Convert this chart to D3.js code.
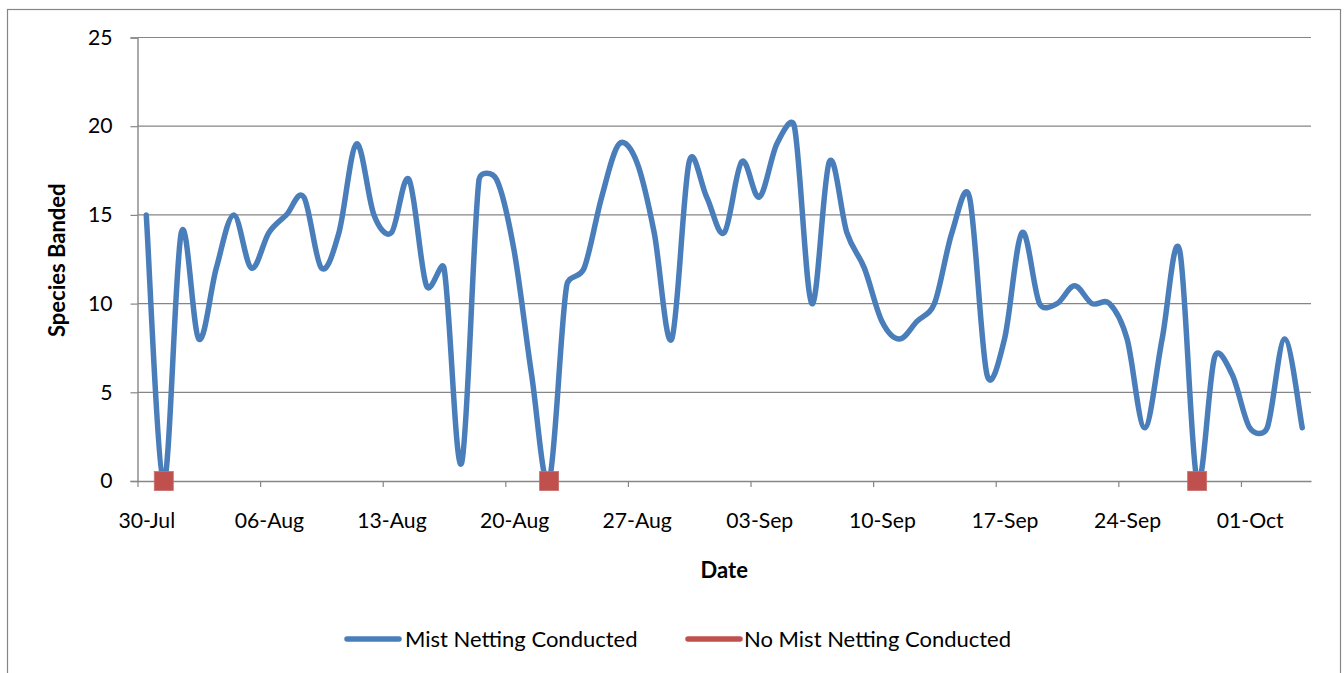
<!DOCTYPE html>
<html>
<head>
<meta charset="utf-8">
<script src="https://cdn.jsdelivr.net/npm/d3@7"></script>
<style>
  html, body { margin: 0; padding: 0; background: #fff; }
  svg { display: block; font-family: Lato, "Open Sans", sans-serif; }
</style>
</head>
<body>
<svg id="chart" width="1344" height="673"></svg>
<script>
// ---- Data ----
const dates = [
  "2012-07-30","2012-07-31","2012-08-01","2012-08-02","2012-08-03","2012-08-04","2012-08-05",
  "2012-08-06","2012-08-07","2012-08-08","2012-08-09","2012-08-10","2012-08-11","2012-08-12",
  "2012-08-13","2012-08-14","2012-08-15","2012-08-16","2012-08-17","2012-08-18","2012-08-19",
  "2012-08-20","2012-08-21","2012-08-22","2012-08-23","2012-08-24","2012-08-25","2012-08-26",
  "2012-08-27","2012-08-28","2012-08-29","2012-08-30","2012-08-31","2012-09-01","2012-09-02",
  "2012-09-03","2012-09-04","2012-09-05","2012-09-06","2012-09-07","2012-09-08","2012-09-09",
  "2012-09-10","2012-09-11","2012-09-12","2012-09-13","2012-09-14","2012-09-15","2012-09-16",
  "2012-09-17","2012-09-18","2012-09-19","2012-09-20","2012-09-21","2012-09-22","2012-09-23",
  "2012-09-24","2012-09-25","2012-09-26","2012-09-27","2012-09-28","2012-09-29","2012-09-30",
  "2012-10-01","2012-10-02","2012-10-03","2012-10-04"
];
const mistNetting = [
  15, 0, 14, 8, 12, 15, 12,
  14, 15, 16, 12, 14, 19, 15,
  14, 17, 11, 12, 1, 17, 17,
  13, 6, 0, 11, 12, 16, 19,
  18, 14, 8, 18, 16, 14, 18,
  16, 19, 20, 10, 18, 14, 12,
  9, 8, 9, 10, 14, 16, 6,
  8, 14, 10, 10, 11, 10, 10,
  8, 3, 8, 13, 0, 7, 6,
  3, 3, 8, 3
];
const noNettingDates = ["2012-07-31", "2012-08-22", "2012-09-28"];
const noNettingValues = [0, 0, 0];
const xTickDates = ["2012-07-30","2012-08-06","2012-08-13","2012-08-20","2012-08-27",
                    "2012-09-03","2012-09-10","2012-09-17","2012-09-24","2012-10-01"];
const xDomain = ["2012-07-30", "2012-10-05"];
const yTicks = [0, 5, 10, 15, 20, 25];
const seriesNames = ["Mist Netting Conducted", "No Mist Netting Conducted"];
const seriesColors = ["#4A7EBB", "#C0504D"];

// ---- Layout ----
const parse = d3.utcParse("%Y-%m-%d");
const fmt = d3.utcFormat("%d-%b");
const plotLeft = 137.5, plotRight = 1311, plotTop = 37.5, plotBottom = 481;
const gridColor = "#868686";
const tickFont = 21.2;
const legendFont = 22;
const titleFont = 22;

// Spreadsheet-style smoothing: Bezier with tangent (P[i+1]-P[i-1])/6,
// the control offset limited to half of the segment length.
function smoothCurve(context) {
  let pts = [];
  return {
    areaStart() {}, areaEnd() {},
    lineStart() { pts = []; },
    point(px, py) { pts.push([+px, +py]); },
    lineEnd() {
      const n = pts.length;
      if (!n) return;
      context.moveTo(pts[0][0], pts[0][1]);
      const dist = (a, b) => Math.hypot(a[0] - b[0], a[1] - b[1]);
      for (let i = 0; i < n - 1; i++) {
        const p0 = pts[Math.max(i - 1, 0)], p1 = pts[i], p2 = pts[i + 1], p3 = pts[Math.min(i + 2, n - 1)];
        const d12 = dist(p1, p2), d02 = dist(p0, p2), d13 = dist(p1, p3);
        let f0 = 1 / 6, f1 = 1 / 6;
        if (d02 * f0 > d12 / 2 && d02 > 0) f0 = d12 / 2 / d02;
        if (d13 * f1 > d12 / 2 && d13 > 0) f1 = d12 / 2 / d13;
        const b1 = [p1[0] + (p2[0] - p0[0]) * f0, p1[1] + (p2[1] - p0[1]) * f0];
        const b2 = [p2[0] - (p3[0] - p1[0]) * f1, p2[1] - (p3[1] - p1[1]) * f1];
        context.bezierCurveTo(b1[0], b1[1], b2[0], b2[1], p2[0], p2[1]);
      }
    }
  };
}

const svg = d3.select("#chart");

svg.append("rect")
  .attr("x", 7.5).attr("y", 9.5).attr("width", 1333).attr("height", 720)
  .attr("fill", "#fff").attr("stroke", gridColor).attr("stroke-width", 1.2);

const x = d3.scaleUtc().domain(xDomain.map(parse)).range([plotLeft, plotRight]);
const y = d3.scaleLinear().domain([0, 25]).range([plotBottom, plotTop]);
const halfDay = 12 * 3600 * 1000;
const xc = d => x(new Date(parse(d).getTime() + halfDay));
const labelShift = x(new Date(parse(xDomain[0]).getTime() + halfDay)) - plotLeft;

// gridlines
svg.append("g").selectAll("line").data(yTicks.filter(v => v > 0)).join("line")
  .attr("x1", plotLeft).attr("x2", plotRight)
  .attr("y1", d => y(d)).attr("y2", d => y(d))
  .attr("stroke", gridColor).attr("stroke-width", 1.2);

// y axis
const yAxis = svg.append("g").attr("transform", `translate(${plotLeft},0)`)
  .call(d3.axisLeft(y).tickValues(yTicks).tickSize(7).tickPadding(18).tickFormat(d3.format("d")));
yAxis.select(".domain").attr("stroke", gridColor).attr("stroke-width", 1.4);
yAxis.selectAll(".tick line").attr("stroke", gridColor).attr("stroke-width", 1.2);
yAxis.selectAll(".tick text").attr("font-size", tickFont).attr("font-family", "Lato").attr("fill", "#000");

// x axis
const xAxis = svg.append("g").attr("transform", `translate(0,${plotBottom})`)
  .call(d3.axisBottom(x).tickValues(xTickDates.map(parse)).tickSize(6).tickSizeOuter(0).tickFormat(fmt));
xAxis.select(".domain").attr("stroke", gridColor).attr("stroke-width", 1.4);
xAxis.selectAll(".tick line").attr("stroke", gridColor).attr("stroke-width", 1.2);
xAxis.selectAll(".tick text")
  .attr("font-size", tickFont).attr("font-family", "Lato").attr("fill", "#000")
  .attr("x", labelShift)
  .attr("y", 47).attr("dy", 0);

// axis titles
svg.append("text")
  .attr("transform", `translate(65,${(plotTop + plotBottom) / 2 + 1}) rotate(-90)`)
  .attr("text-anchor", "middle")
  .attr("font-size", titleFont).attr("font-weight", "bold").attr("font-family", "Lato")
  .text("Species Banded");
svg.append("text")
  .attr("x", (plotLeft + plotRight) / 2).attr("y", 578)
  .attr("text-anchor", "middle")
  .attr("font-size", titleFont).attr("font-weight", "bold").attr("font-family", "Lato")
  .text("Date");

// blue smoothed line
const line = d3.line()
  .x((d, i) => xc(dates[i]))
  .y(d => y(d))
  .curve(smoothCurve);
svg.append("path")
  .datum(mistNetting)
  .attr("d", line)
  .attr("fill", "none")
  .attr("stroke", seriesColors[0])
  .attr("stroke-width", 5.5)
  .attr("stroke-linejoin", "round")
  .attr("stroke-linecap", "round");

// red markers
const ms = 19;
svg.append("g").selectAll("rect").data(noNettingValues).join("rect")
  .attr("x", (d, i) => xc(noNettingDates[i]) - ms / 2)
  .attr("y", d => y(d) - ms / 2)
  .attr("width", ms).attr("height", ms)
  .attr("fill", seriesColors[1])
  .attr("stroke", "#C86F6C").attr("stroke-width", 0.8);

// legend
const legendItems = [
  { name: seriesNames[0], color: seriesColors[0], x1: 347, x2: 399, tx: 405 },
  { name: seriesNames[1], color: seriesColors[1], x1: 688, x2: 740, tx: 744 }
];
const lg = svg.append("g");
legendItems.forEach(it => {
  lg.append("line")
    .attr("x1", it.x1).attr("x2", it.x2).attr("y1", 639).attr("y2", 639)
    .attr("stroke", it.color).attr("stroke-width", 5.5).attr("stroke-linecap", "round");
  lg.append("text")
    .attr("x", it.tx).attr("y", 646.5)
    .attr("font-size", legendFont).attr("font-family", "Lato").attr("fill", "#000")
    .text(it.name);
});
</script>
</body>
</html>
